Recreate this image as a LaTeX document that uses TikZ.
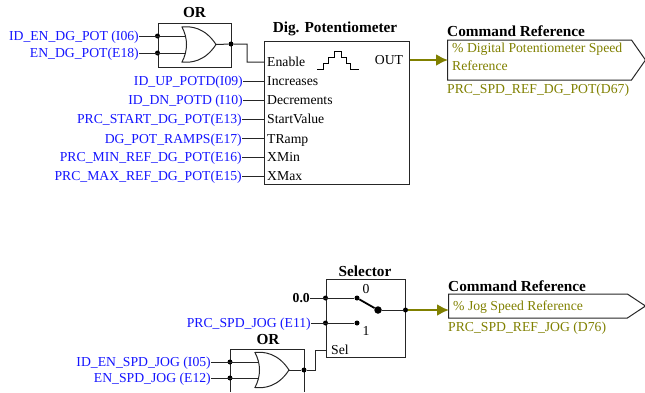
\documentclass[tikz,border=0pt]{standalone}
\usepackage{fontspec}
\setmainfont{Liberation Serif}
\usepackage{tikz}
\usetikzlibrary{positioning, arrows.meta, shapes.symbols}
\definecolor{tagBlue}{RGB}{20, 20, 255}
\definecolor{refOlive}{RGB}{128, 128, 0}
\tikzset{
  wire/.style={line width=1pt, black!85},
  outWire/.style={-{Latex[length=12pt, width=12pt]}, line width=2.2pt, refOlive, shorten >=-1pt},
  tag/.style={anchor=east, tagBlue, inner sep=0pt, text height=9pt, text depth=0pt},
  pin/.style={anchor=west, inner xsep=3pt, inner ysep=0pt, text height=9pt, text depth=0pt},
  block/.style={draw, line width=1pt, black!85, text=black},
  title/.style={font=\bfseries\fontsize{15.3}{15.3}\selectfont, inner sep=0pt},
  refText/.style={anchor=west, refOlive, inner sep=0pt},
  refBox/.style={draw, line width=1pt, black!85, signal, signal to=east, inner sep=0pt, anchor=west},
  dot/.style={circle, fill=black, inner sep=0pt, minimum size=5pt},
  orGate/.pic={
    \draw[line width=1pt, black!85] (-17, -17.5) .. controls (-8, -18.5) and (6, -17) .. (17, 0)
      .. controls (6, 17) and (-8, 18.5) .. (-17, 17.5)
      .. controls (-11, 6) and (-11, -6) .. (-17, -17.5) -- cycle;
    \coordinate (-in1) at (-14, -8.5);
    \coordinate (-in2) at (-14, 8.5);
    \coordinate (-out) at (17, 0);
  },
}
\begin{document}
\begin{tikzpicture}[x=1pt, y=-1pt, font=\fontsize{13.7}{13.7}\selectfont]
  \useasboundingbox (0, 0) rectangle (645, 392);

  % Upper OR block
  \node[block, minimum width=73, minimum height=44] (orA) at (194.5, 45) {};
  \node[title] (orAT) at (194.5, 13) {OR};
  \pic (gateA) at (199, 44.5) {orGate};
  \node[tag] (lEnId) at (139, 36) {ID\_EN\_DG\_POT (I06)};
  \node[tag] (lEn) at (139, 53) {EN\_DG\_POT(E18)};
  \node[dot] (dA1) at (orA.west |- lEnId) {};
  \node[dot] (dA2) at (orA.west |- lEn) {};
  \node[dot] (dA3) at (231, 44) {};

  % Potentiometer block
  \node[block, minimum width=145, minimum height=143] (pot) at (336.5, 112.5) {};
  \node[title] (potT) at (335, 29) {Dig. Potentiometer};
  \node[pin] (pEn) at (264, 62) {Enable};
  \node[pin] (pUp) at (264, 81) {Increases};
  \node[pin] (pDn) at (264, 100) {Decrements};
  \node[pin] (pSt) at (264, 119) {StartValue};
  \node[pin] (pRa) at (264, 138.5) {TRamp};
  \node[pin] (pMi) at (264, 157) {XMin};
  \node[pin] (pMa) at (264, 176) {XMax};
  \node[inner sep=0pt] (pOut) at (389, 60) {OUT};
  \draw[line width=0.8pt] (317.3, 69.3) -- (323.3, 69.3) -- (323.3, 63.3) -- (328.3, 63.3)
    -- (328.3, 57.7) -- (334, 57.7) -- (334, 51.3) -- (341.7, 51.3) -- (341.7, 57.7)
    -- (346, 57.7) -- (346, 63.3) -- (350.7, 63.3) -- (350.7, 69.3) -- (359, 69.3);

  \node[tag] (lUp) at (243, 81) {ID\_UP\_POTD(I09)};
  \node[tag] (lDn) at (243, 100) {ID\_DN\_POTD (I10)};
  \node[tag] (lSt) at (242, 119) {PRC\_START\_DG\_POT(E13)};
  \node[tag] (lRa) at (242, 138.5) {DG\_POT\_RAMPS(E17)};
  \node[tag] (lMi) at (242, 157) {PRC\_MIN\_REF\_DG\_POT(E16)};
  \node[tag] (lMa) at (242, 176) {PRC\_MAX\_REF\_DG\_POT(E15)};

  % Wires into the potentiometer
  \draw[wire] (lEnId) -- (gateA-in1);
  \draw[wire] (lEn) -- (gateA-in2);
  \draw[wire] (gateA-out) -- (dA3) -- (247, 44) -- (247, 62) -- (pEn.west);
  \draw[wire] (lUp) -- (pUp);
  \draw[wire] (lDn) -- (pDn);
  \draw[wire] (lSt) -- (pSt);
  \draw[wire] (lRa) -- (pRa);
  \draw[wire] (lMi) -- (pMi);
  \draw[wire] (lMa) -- (pMa);

  % Upper command reference
  \node[refBox, signal pointer angle=110, minimum width=198, minimum height=40] (cmdA) at (447, 60) {};
  \node[title, anchor=west] (cmdAT) at (447, 31) {Command Reference};
  \node[refText] (cmdAL1) at (452, 49.5) {\% Digital Potentiometer Speed};
  \node[refText] (cmdAL2) at (452, 65.5) {Reference};
  \node[refText] (cmdAN) at (447, 90) {PRC\_SPD\_REF\_DG\_POT(D67)};
  \draw[outWire] (pot.east |- pOut) -- (cmdA.west |- pOut);

  % Selector block
  \node[block, minimum width=79, minimum height=78] (sel) at (365.5, 318) {};
  \node[title] (selT) at (365, 271) {Selector};
  \node[tag, text=black, font=\fontsize{13.7}{13.7}\selectfont\bfseries] (lZero) at (310, 298) {0.0};
  \node[tag] (lJog) at (311, 323) {PRC\_SPD\_JOG (E11)};
  \node[dot] (s0) at (357, 298) {};
  \node[dot] (s1) at (357, 323) {};
  \node[dot, minimum size=7.5pt] (sC) at (378, 310) {};
  \node[inner sep=0pt] (tZero) at (366, 289.5) {0};
  \node[inner sep=0pt] (tOne) at (366, 331) {1};
  \node[anchor=west, inner xsep=5pt, inner ysep=0pt] (pSel) at (326, 350) {Sel};
  \node[dot] (dS1) at (sel.west |- s0) {};
  \node[dot] (dS2) at (sel.west |- s1) {};
  \node[dot] (dS3) at (sel.east |- sC) {};
  \draw[wire] (lZero) -- (s0);
  \draw[wire] (lJog) -- (s1);
  \draw[line width=1.8pt] (s0) -- (sC);
  \draw[wire] (sC) -- (dS3);

  % Lower OR block
  \draw[block] (230, 392) |- (304, 349) -- (304, 392);
  \node[title] (orBT) at (268, 339) {OR};
  \pic (gateB) at (272, 370) {orGate};
  \node[tag] (lJogId) at (211, 362) {ID\_EN\_SPD\_JOG (I05)};
  \node[tag] (lJogEn) at (211, 378) {EN\_SPD\_JOG (E12)};
  \node[dot] (dB1) at (230, 362) {};
  \node[dot] (dB2) at (230, 378) {};
  \node[dot] (dB3) at (304, 370) {};
  \draw[wire] (lJogId) -- (lJogId -| gateB-in1);
  \draw[wire] (lJogEn) -- (lJogEn -| gateB-in2);
  \draw[wire] (gateB-out) -- (dB3) -- (315, 370) -- (315, 350) -- (pSel.west);

  % Lower command reference
  \node[refBox, signal pointer angle=67, minimum width=197, minimum height=24] (cmdB) at (448, 306) {};
  \node[title, anchor=west] (cmdBT) at (448, 286) {Command Reference};
  \node[refText] (cmdBL) at (453, 307) {\% Jog Speed Reference};
  \node[refText] (cmdBN) at (448, 328) {PRC\_SPD\_REF\_JOG (D76)};
  \draw[outWire] (dS3) -- (cmdB.west |- dS3);
\end{tikzpicture}
\end{document}
